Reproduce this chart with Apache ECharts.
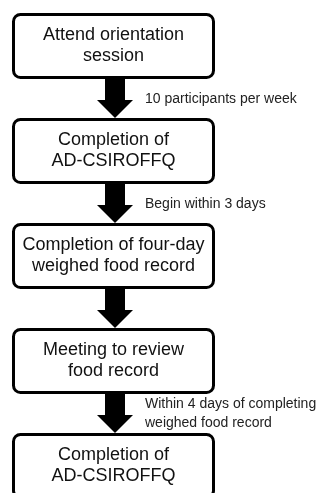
<!DOCTYPE html>
<html>
<head>
<meta charset="utf-8">
<title>Study flow</title>
<script src="https://cdn.jsdelivr.net/npm/echarts@6/dist/echarts.min.js"></script>
<style>
html, body { margin: 0; padding: 0; background: #fff; }
#main { width: 319px; height: 493px; }
</style>
</head>
<body>
<div id="main"></div>
<script>
// steps of the flow, top to bottom
var steps = [
	'Attend orientation\nsession',
	'Completion of\nAD-CSIROFFQ',
	'Completion of four-day\nweighed food record',
	'Meeting to review\nfood record',
	'Completion of\nAD-CSIROFFQ'
];
// note beside each arrow (arrow i goes from step i to step i+1)
var notes = [
	'10 participants per week',
	'Begin within 3 days',
	'',
	'Within 4 days of completing\nweighed food record'
];

var stepIdx = steps.map(function (s, i) { return [i]; });
var noteIdx = notes.map(function (s, i) { return [i]; });

var myChart = echarts.init(document.getElementById('main'));

var boxLeft = 13.5, boxRight = 213.5, midX = 115, noteX = 145;
var boxSpan = 0.6;   // box height in step units
var font = '"Liberation Sans", Arial, sans-serif';

function renderBox(params, api) {
	var i = api.value(0);
	var tl = api.coord([boxLeft, i]);
	var br = api.coord([boxRight, i + boxSpan]);
	return {
		type: 'rect',
		shape: { x: tl[0], y: tl[1], width: br[0] - tl[0], height: br[1] - tl[1], r: 7 },
		style: { fill: '#fff', stroke: '#000', lineWidth: 3 },
		textContent: {
			style: {
				text: steps[i],
				fill: '#111',
				fontSize: 18,
				fontFamily: font,
				lineHeight: 21,
				align: 'center',
				verticalAlign: 'middle'
			}
		},
		textConfig: { position: 'inside' }
	};
}

function renderArrow(params, api) {
	var i = api.value(0);
	var top = api.coord([midX, i + boxSpan]);
	var tip = api.coord([midX, i + 1]);
	var cx = top[0], y0 = top[1], y1 = tip[1] - 1.5;
	var shaft = 10, head = 18, headLen = 18;
	var children = [{
		type: 'polygon',
		shape: {
			points: [
				[cx - shaft, y0], [cx + shaft, y0], [cx + shaft, y1 - headLen],
				[cx + head, y1 - headLen], [cx, y1], [cx - head, y1 - headLen],
				[cx - shaft, y1 - headLen]
			]
		},
		style: { fill: '#000' }
	}];
	if (notes[i]) {
		var nx = api.coord([noteX, i])[0];
		children.push({
			type: 'text',
			x: nx,
			y: (y0 + y1) / 2 + 1,
			style: {
				text: notes[i],
				fill: '#222',
				fontSize: 14,
				fontFamily: font,
				lineHeight: 19,
				align: 'left',
				verticalAlign: 'middle'
			}
		});
	}
	return { type: 'group', children: children };
}

var option = {
	backgroundColor: '#fff',
	animation: false,
	grid: { left: 0, right: 0, top: 0, bottom: 0 },
	xAxis: { type: 'value', min: 0, max: 319, show: false },
	yAxis: { type: 'value', inverse: true, min: -14.5 / 105, max: -14.5 / 105 + 493 / 105, show: false },
	series: [{
		type: 'custom',
		renderItem: renderArrow,
		data: noteIdx,
		z: 1
	}, {
		type: 'custom',
		renderItem: renderBox,
		data: stepIdx,
		z: 2
	}]
};
myChart.setOption(option);
</script>
</body>
</html>
